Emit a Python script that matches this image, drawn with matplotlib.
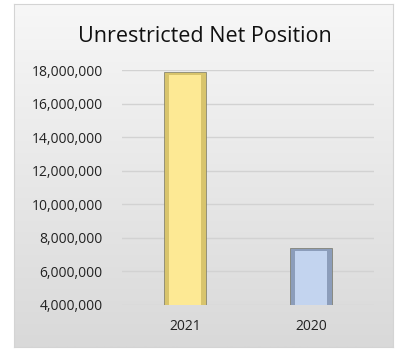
import numpy as np
import matplotlib.pyplot as plt
from matplotlib.ticker import FuncFormatter

plt.rcParams['font.family'] = ['Open Sans', 'DejaVu Sans']

years = ['2021', '2020']
values = [17900000, 7400000]
outer_colors = ['#d8c46c', '#8c9dba']
inner_colors = ['#fde994', '#c3d4ef']
y_ticks = [4000000, 6000000, 8000000, 10000000, 12000000, 14000000, 16000000, 18000000]

fig = plt.figure(figsize=(3.96, 3.49), dpi=100)

# panel with a vertical grey gradient
bg = fig.add_axes([14 / 396, 2 / 349, 379 / 396, 343 / 349], zorder=0)
grad = np.linspace(0, 1, 256).reshape(-1, 1)
bg.imshow(grad, aspect='auto', cmap=plt.cm.colors.LinearSegmentedColormap.from_list(
    'g', ['#f7f7f7', '#d9d9d9']), extent=[0, 1, 0, 1], origin='upper')
bg.set_xticks([])
bg.set_yticks([])
for s in bg.spines.values():
    s.set_color('#d4d4d4')
    s.set_linewidth(0.8)

ax = fig.add_axes([122 / 396, 1 - 305 / 349, 252 / 396, 235 / 349], zorder=1)
ax.patch.set_alpha(0)
x = np.arange(len(years))
ax.bar(x, values, width=0.33, color=outer_colors, edgecolor='#777766', linewidth=0.5, zorder=3)
ax.bar(x, np.array(values) - 200000, width=0.26, bottom=0, color=inner_colors, linewidth=0, zorder=4)

ax.set_xlim(-0.5, 1.5)
ax.set_ylim(4000000, 18000000)
ax.set_yticks(y_ticks)
ax.yaxis.set_major_formatter(FuncFormatter(lambda v, p: f'{int(v):,}'))
ax.set_xticks(x)
ax.set_xticklabels(years)
ax.grid(axis='y', color='#d2d2d2', linewidth=1, zorder=0)
ax.tick_params(axis='both', length=0, labelsize=10, colors='#222222')
ax.tick_params(axis='y', pad=14)
ax.tick_params(axis='x', pad=10)
for s in ax.spines.values():
    s.set_visible(False)

fig.text(205 / 396, 1 - 36 / 349, 'Unrestricted Net Position', ha='center', va='center',
         fontsize=15.5, color='#111111')

fig.savefig('out.png', dpi=100, facecolor='white')
